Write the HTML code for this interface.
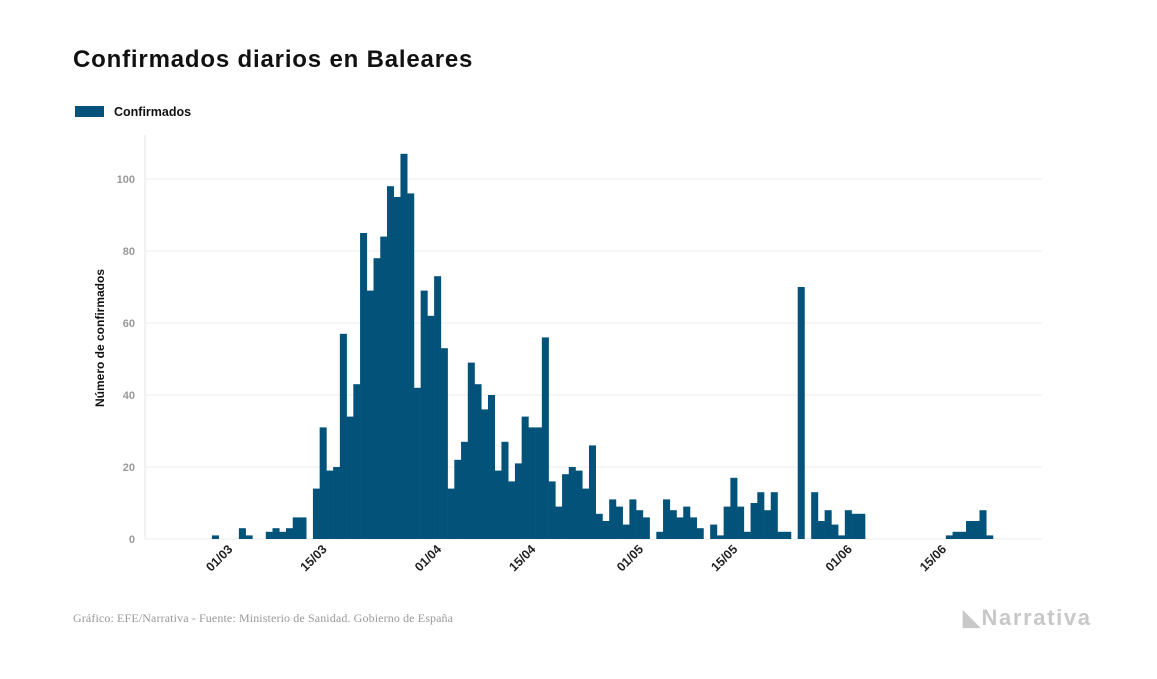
<!DOCTYPE html>
<html><head><meta charset="utf-8"><style>
body{margin:0;background:#fff;width:1157px;height:674px;overflow:hidden;font-family:"Liberation Sans",sans-serif}
</style></head><body>
<svg width="1157" height="674" xmlns="http://www.w3.org/2000/svg">
<text x="73" y="67" font-size="24" font-weight="bold" fill="#111" letter-spacing="0.6" textLength="400">Confirmados diarios en Baleares</text>
<g>
<rect x="75" y="106" width="29" height="11" fill="#02527a"/>
<text x="114" y="116" font-size="12.5" font-weight="bold" fill="#111">Confirmados</text>
</g>
<g id="grid"></g>
<g id="bars"></g>
<g id="xt"></g>
<text transform="translate(104,338) rotate(-90)" text-anchor="middle" font-size="12" font-weight="bold" fill="#111">Número de confirmados</text>
<text x="73" y="622" font-size="12" fill="#999" font-family="Liberation Serif,serif" textLength="380">Gráfico: EFE/Narrativa - Fuente: Ministerio de Sanidad. Gobierno de España</text>
<text x="963" y="625" font-size="22" font-weight="bold" fill="#c8c8c8" textLength="127">◣Narrativa</text>
</svg>
<script>
const values=[0,0,0,0,1,0,0,0,3,1,0,0,2,3,2,3,6,6,0,14,31,19,20,57,34,43,85,69,78,84,98,95,107,96,42,69,62,73,53,14,22,27,49,43,36,40,19,27,16,21,34,31,31,56,16,9,18,20,19,14,26,7,5,11,9,4,11,8,6,0,2,11,8,6,9,6,3,0,4,1,9,17,9,2,10,13,8,13,2,2,0,70,0,13,5,8,4,1,8,7,7,0,0,0,0,0,0,0,0,0,0,0,0,1,2,2,5,5,8,1,0];
const yTicks=[0,20,40,60,80,100];
const xTickIdx=[4,18,35,49,65,79,96,110];
const xTickLabels=["01/03","15/03","01/04","15/04","01/05","15/05","01/06","15/06"];
const NS="http://www.w3.org/2000/svg";
const x0=185,bw=6.733;
const xs=i=>x0+i*bw;
const ys=v=>539-v*3.6;
const grid=document.getElementById('grid'),bars=document.getElementById('bars'),xt=document.getElementById('xt');
function mk(tag,attrs,parent){const e=document.createElementNS(NS,tag);for(const k in attrs)e.setAttribute(k,attrs[k]);parent.appendChild(e);return e;}
const ax=mk('line',{x1:145,x2:145,y1:135,y2:539,stroke:'#e6e6e6'},grid);


yTicks.forEach(t=>{
 const l=mk('line',{x1:145,x2:1042,y1:ys(t),y2:ys(t),stroke:'#ececec','stroke-width':1},grid);
 
 
 const tx=mk('text',{x:135,y:ys(t)+4,'text-anchor':'end','font-size':11,'font-weight':'bold',fill:'#999'},grid);
 tx.textContent=t;
 
 
});
values.forEach((v,i)=>{
 if(v<=0)return;
 const r=mk('rect',{x:xs(i),y:ys(v),width:bw+0.3,height:539-ys(v),fill:'#02527a'},bars);
 
 
});
xTickIdx.forEach((d,k)=>{
 const cx=xs(d)+bw/2+18, cy=550;
 const tx=mk('text',{x:cx,y:cy,'text-anchor':'end','font-size':12.5,'font-weight':'bold',fill:'#222',transform:`rotate(-45 ${cx} ${cy})`},xt);
 tx.textContent=xTickLabels[k];
 
 
});
</script>
</body></html>
